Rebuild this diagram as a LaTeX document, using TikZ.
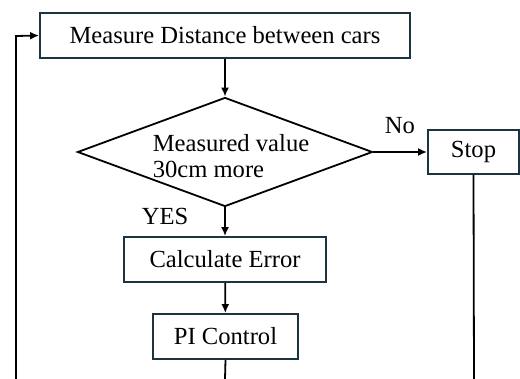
\documentclass[tikz,border=0pt]{standalone}
\usepackage{fontspec}
\setmainfont{Liberation Serif}
\usepackage{tikz}
\usetikzlibrary{shapes,positioning,arrows.meta}
\definecolor{boxline}{HTML}{1C3342}

\begin{document}
\begin{tikzpicture}[x=0.5pt,y=-0.5pt,
  stepbox/.style={draw=boxline, line width=0.9pt, minimum height=22.5pt, inner sep=0pt, font=\fontsize{12.3}{14}\selectfont},
  decision/.style={draw, line width=0.9pt, diamond, aspect=2.7, minimum width=147.5pt, minimum height=54.5pt, inner sep=0pt},
  flow/.style={draw, line width=0.9pt, -{Latex[length=4.5pt,width=4pt]}},
  wire/.style={draw, line width=0.9pt}]
\useasboundingbox (0,0) rectangle (520,379);
\node[stepbox, minimum width=185pt] (measure) at (225,35.5) {Measure Distance between cars};
\node[decision] (check) at (225,152) {};
\node[align=left, inner sep=0pt, font=\fontsize{12.3}{13}\selectfont] (checktext) at (231,156) {Measured value\\30cm more};
\node[stepbox, minimum width=45.5pt, minimum height=22pt] (stop) at (473.5,152) {Stop};
\node[stepbox, minimum width=101pt] (calc) at (225,259.5) {Calculate Error};
\node[stepbox, minimum width=72.5pt] (pi) at (225.5,336.5) {PI Control};
\node[font=\fontsize{12.3}{14}\selectfont] (no) at (400,126) {No};
\node[font=\fontsize{12.3}{14}\selectfont] (yes) at (165,216) {YES};
\coordinate (loopend) at (16,379);
\coordinate (loopcorner) at (16,36);
\coordinate (stopend) at (474,379);
\coordinate (piend) at (225,379);
% main flow
\path [flow] (measure) -- (check);
\path [flow] (check) -- (stop);
\path [flow] (check) -- (calc);
\path [flow] (calc) -- (pi);
% lines leaving the picture
\path [wire] (pi.south) -- (piend);
\path [wire] (stop.south) -- (stopend);
\path [flow] (loopend) -- (loopcorner) -- (measure.west);
\end{tikzpicture}
\end{document}
